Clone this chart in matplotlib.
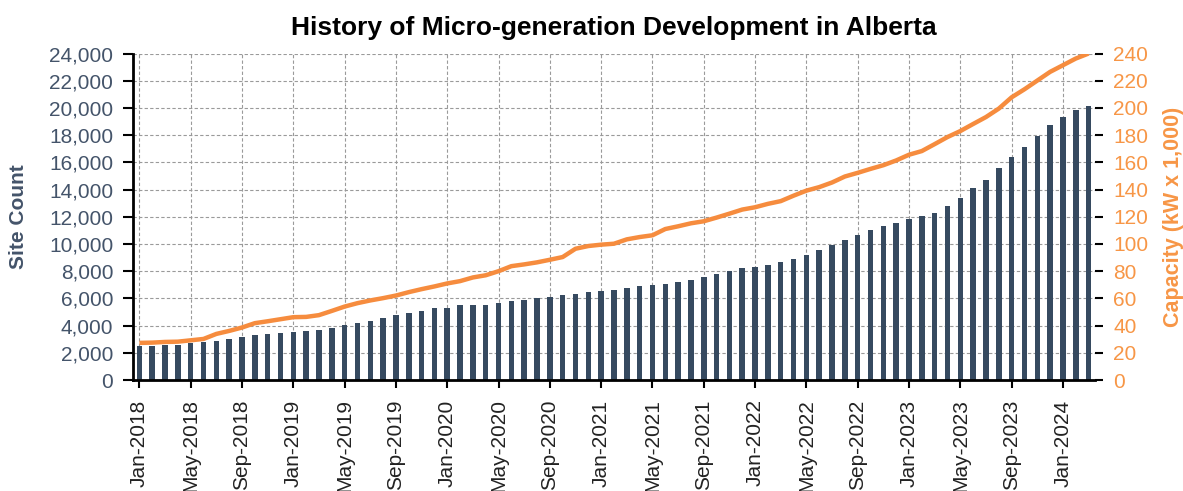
import matplotlib
matplotlib.use("Agg")
import matplotlib.pyplot as plt
import numpy as np
import pandas as pd
from matplotlib.ticker import FuncFormatter, MultipleLocator

plt.rcParams['font.family'] = ['Liberation Sans', 'DejaVu Sans']

months = list(pd.date_range('2018-01-01', periods=75, freq='MS').strftime('%b-%Y'))

site_count = [2500, 2500, 2580, 2580, 2700, 2780, 2870, 3000, 3140, 3290,
              3410, 3490, 3560, 3640, 3710, 3860, 4050, 4200, 4350, 4570,
              4770, 4910, 5110, 5260, 5330, 5480, 5500, 5550, 5690, 5820,
              5900, 6020, 6120, 6240, 6340, 6460, 6530, 6610, 6760, 6880,
              6950, 7070, 7220, 7370, 7590, 7790, 8010, 8200, 8300, 8430,
              8650, 8920, 9210, 9560, 9950, 10270, 10640, 11030, 11320, 11550,
              11820, 12040, 12260, 12820, 13390, 14080, 14710, 15570, 16410, 17120,
              17960, 18770, 19310, 19820, 20170]

capacity = [27.3, 27.5, 28.0, 28.2, 29.2, 30.2, 33.9, 36.1, 38.6, 41.8,
            43.2, 44.7, 46.2, 46.4, 47.7, 50.8, 54.0, 56.5, 58.5, 60.2,
            62.1, 64.6, 66.8, 68.8, 71.0, 72.7, 75.4, 77.0, 80.0, 83.7,
            85.0, 86.5, 88.4, 90.4, 96.5, 98.5, 99.5, 100.2, 103.4, 105.1,
            106.4, 111.0, 113.0, 115.2, 116.7, 119.4, 122.3, 125.3, 127.0, 129.5,
            131.5, 135.5, 139.2, 141.8, 145.2, 149.6, 152.3, 155.2, 157.9, 161.4,
            165.6, 168.3, 173.4, 178.6, 183.0, 188.2, 193.3, 199.5, 207.8, 213.7,
            220.1, 226.5, 231.4, 236.3, 240.0]

title = "History of Micro-generation Development in Alberta"
left_label = "Site Count"
right_label = "Capacity (kW x 1,000)"

bar_color = '#364A60'
line_color = '#F68C3E'
left_text = '#44546A'
right_text = '#F79646'

fig = plt.figure(figsize=(11.83, 4.91), dpi=100)
ax = fig.add_axes([0.1124, 0.226, 0.8132, 0.665])
x = np.arange(len(months))

ax.bar(x, site_count, width=0.43, color=bar_color, zorder=2)
ax.set_xlim(-0.5, len(months) - 0.5)
ax.set_ylim(0, 24000)
ax.yaxis.set_major_locator(MultipleLocator(2000))
ax.yaxis.set_major_formatter(FuncFormatter(lambda v, p: f"{int(v):,}"))
ax.set_xticks(x[::4])
ax.set_xticklabels(months[::4], rotation=90, fontsize=15, color='#222222')
ax.tick_params(axis='y', labelsize=15, labelcolor=left_text, length=7.2, width=1.5, direction='out', pad=7)
ax.tick_params(axis='x', length=6, width=1.5, direction='out', pad=8)
ax.grid(True, which='major', axis='both', linestyle=(0, (3, 2)), color='#9a9a9a', linewidth=0.8, zorder=0)
ax.set_axisbelow(True)
for s in ['top', 'right']:
    ax.spines[s].set_visible(False)
for s in ['left', 'bottom']:
    ax.spines[s].set_linewidth(2)
    ax.spines[s].set_color('black')
ax.set_ylabel(left_label, fontsize=15, fontweight='bold', color=left_text)
ax.yaxis.set_label_coords(-0.109, 0.5)

ax2 = ax.twinx()
ax2.plot(x, capacity, color=line_color, linewidth=3.2, zorder=3, solid_capstyle='butt')
ax2.set_ylim(0, 240)
ax2.yaxis.set_major_locator(MultipleLocator(20))
ax2.tick_params(axis='y', labelsize=15, labelcolor=right_text, length=6, width=1.5, direction='out', pad=7)
for s in ['top', 'right', 'left', 'bottom']:
    ax2.spines[s].set_visible(False)
ax2.set_ylabel(right_label, fontsize=15.5, fontweight='bold', color=right_text)
ax2.yaxis.set_label_coords(1.0705, 0.5)

ax.set_title(title, fontsize=19, fontweight='bold', color='black', pad=13)

fig.savefig('out.png', dpi=100)
